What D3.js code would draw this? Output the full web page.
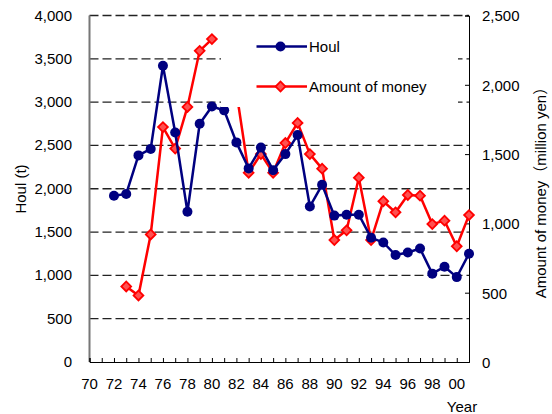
<!DOCTYPE html>
<html>
<head>
<meta charset="utf-8">
<script src="https://cdn.jsdelivr.net/npm/d3@7"></script>
<style>
  body { margin: 0; background: #fff; }
  text { font-family: "Liberation Sans", Arial, sans-serif; font-size: 15px; fill: #000; }
</style>
</head>
<body>
<div id="chart"></div>
<script>
// houl (t), left axis
var houlYears = [72,73,74,75,76,77,78,79,80,81,82,83,84,85,86,87,88,89,90,91,92,93,94,95,96,97,98,99,100,101];
var houl = [1920,1940,2385,2460,3420,2650,1735,2750,2950,2905,2535,2235,2475,2215,2400,2620,1795,2045,1690,1700,1700,1435,1380,1235,1265,1310,1020,1100,980,1250];

// amount of money (million yen), right axis -- no value for 81
var moneyYears = [73,74,75,76,77,78,79,80,82,83,84,85,86,87,88,89,90,91,92,93,94,95,96,97,98,99,100,101];
var money = [545,480,920,1695,1540,1840,2245,2330,1950,1365,1500,1365,1580,1725,1500,1395,880,950,1330,880,1160,1080,1205,1200,995,1020,835,1060];

var xTicks = [70,72,74,76,78,80,82,84,86,88,90,92,94,96,98,100];
var leftTicks = [0,500,1000,1500,2000,2500,3000,3500,4000];
var rightTicks = [0,500,1000,1500,2000,2500];

var width = 552, height = 414;
var pLeft = 89.5, pRight = 469, pTop = 15.5, pBottom = 362;

var svg = d3.select("#chart").append("svg").attr("width", width).attr("height", height);

var x = d3.scaleLinear().domain([70, 101]).range([pLeft, pRight]);
var y = d3.scaleLinear().domain([0, 4000]).range([pBottom, pTop]);
var y2 = d3.scaleLinear().domain([0, 2500]).range([pBottom, pTop]);
var fmt = d3.format(",");

// dashed grid
svg.append("g").selectAll("line").data(leftTicks.filter(function(d){ return d > 0; })).enter().append("line")
  .attr("x1", pLeft).attr("x2", pRight)
  .attr("y1", function(d){ return y(d); }).attr("y2", function(d){ return y(d); })
  .attr("stroke", "#222").attr("stroke-width", 1.3).attr("stroke-dasharray", "9,4");

// left axis
svg.append("line").attr("x1", pLeft).attr("x2", pLeft).attr("y1", pTop).attr("y2", pBottom)
  .attr("stroke", "#777").attr("stroke-width", 2);
svg.append("g").selectAll("text").data(leftTicks).enter().append("text")
  .attr("x", 72).attr("y", function(d){ return y(d) + 5; })
  .attr("text-anchor", "end").text(function(d){ return fmt(d); });

// right axis
var rAxis = svg.append("g").attr("transform", "translate(" + pRight + ",0)")
  .call(d3.axisRight(y2).tickValues(rightTicks).tickSize(-4).tickPadding(13).tickFormat(fmt));
rAxis.attr("font-family", null).attr("font-size", null);
rAxis.select(".domain").attr("stroke", "#000");
rAxis.selectAll("text").attr("dy", "0.36em");

// bottom axis with a tick each year
var xAxis = svg.append("g").attr("transform", "translate(0," + pBottom + ")")
  .call(d3.axisBottom(x).ticks(31).tickSize(-4).tickFormat(""));
xAxis.select(".domain").attr("stroke", "#000");
svg.append("g").selectAll("text").data(xTicks).enter().append("text")
  .attr("x", function(d){ return x(d); }).attr("y", 389)
  .attr("text-anchor", "middle")
  .text(function(d){ return d3.format("02")(d % 100); });

// axis titles
svg.append("text").attr("transform", "translate(26,189) rotate(-90)")
  .attr("text-anchor", "middle").text("Houl (t)");
svg.append("text").attr("transform", "translate(546,189) rotate(-90)")
  .attr("text-anchor", "middle")
  .style("font-family", "'Liberation Sans', 'Noto Sans CJK JP'")
  .text("Amount of money（million yen）");
svg.append("text").attr("x", 462).attr("y", 412).attr("text-anchor", "middle").text("Year");

// money series (drawn first, under the legend box)
var moneyData = moneyYears.map(function(d, i){ return [d, money[i]]; });
var line2 = d3.line().x(function(d){ return x(d[0]); }).y(function(d){ return y2(d[1]); });
var seg1 = moneyData.filter(function(d){ return d[0] <= 80; });
var seg2 = moneyData.filter(function(d){ return d[0] >= 82; });
[seg1, seg2].forEach(function(s){
  svg.append("path").datum(s).attr("d", line2).attr("fill", "none")
    .attr("stroke", "#ff0000").attr("stroke-width", 2.5);
});
// square diamond marker (rotated square)
var diamond = d3.symbol().type(d3.symbolSquare).size(48);
svg.append("g").selectAll("path").data(moneyData).enter().append("path")
  .attr("transform", function(d){ return "translate(" + x(d[0]) + "," + y2(d[1]) + ") rotate(45)"; })
  .attr("d", diamond).attr("fill", "#ff5050").attr("stroke", "#ff0000").attr("stroke-width", 1.8);

// houl series
var houlData = houlYears.map(function(d, i){ return [d, houl[i]]; });
var line1 = d3.line().x(function(d){ return x(d[0]); }).y(function(d){ return y(d[1]); });
svg.append("path").datum(houlData).attr("d", line1).attr("fill", "none")
  .attr("stroke", "#000080").attr("stroke-width", 2.5);
svg.append("g").selectAll("circle").data(houlData).enter().append("circle")
  .attr("cx", function(d){ return x(d[0]); }).attr("cy", function(d){ return y(d[1]); })
  .attr("r", 5).attr("fill", "#000080");

// legend box
var lg = svg.append("g");
lg.append("rect").attr("x", 221).attr("y", 20).attr("width", 237).attr("height", 87).attr("fill", "#fff");
var legendItems = [["Houl", "#000080", 46.5], ["Amount of money", "#ff0000", 86.5]];
legendItems.forEach(function(it, i){
  lg.append("line").attr("x1", 256.5).attr("x2", 307).attr("y1", it[2]).attr("y2", it[2])
    .attr("stroke", it[1]).attr("stroke-width", 2.5);
  if (i == 0) {
    lg.append("circle").attr("cx", 280.5).attr("cy", it[2]).attr("r", 5).attr("fill", it[1]);
  } else {
    lg.append("path").attr("transform", "translate(280.5," + it[2] + ") rotate(45)").attr("d", diamond)
      .attr("fill", "#ff5050").attr("stroke", "#ff0000").attr("stroke-width", 1.8);
  }
  lg.append("text").attr("x", 309).attr("y", it[2] + 5).text(it[0]);
});
</script>
</body>
</html>
